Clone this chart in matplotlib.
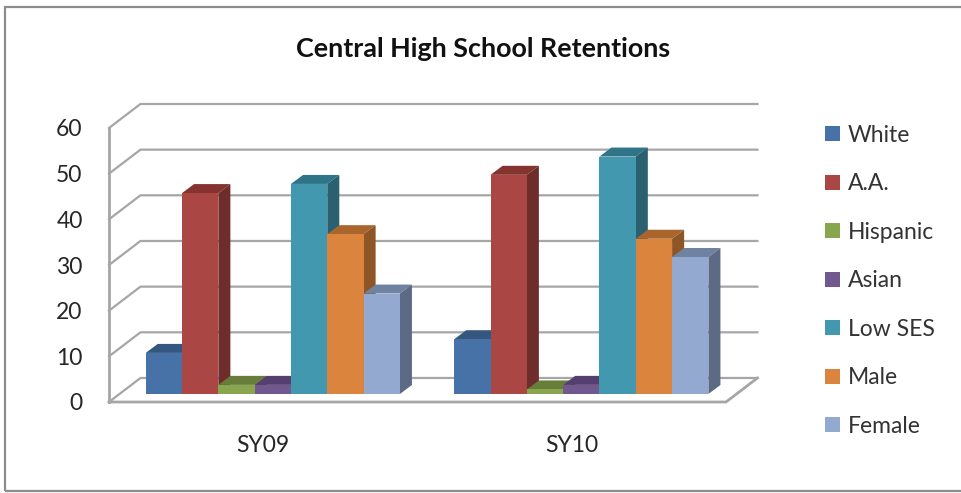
import matplotlib
matplotlib.use("Agg")
import matplotlib.pyplot as plt
from matplotlib.patches import Patch, Rectangle

plt.rcParams["font.family"] = ["Lato", "DejaVu Sans"]

categories = ["SY09", "SY10"]
series = ["White", "A.A.", "Hispanic", "Asian", "Low SES", "Male", "Female"]
values = {
    "White": [9, 12],
    "A.A.": [44, 48],
    "Hispanic": [2, 1],
    "Asian": [2, 2],
    "Low SES": [46, 52],
    "Male": [35, 34],
    "Female": [22, 30],
}
y_ticks = [0, 10, 20, 30, 40, 50, 60]

front_colors = ["#4672A8", "#AA4643", "#89A54E", "#71588F", "#4198AF", "#DB843D", "#93A9CF"]
top_colors = ["#345780", "#84332F", "#677D3A", "#553F6F", "#2F7587", "#A9652B", "#6F82A2"]
side_colors = ["#2B4669", "#6E2C2A", "#556632", "#46345C", "#2A6070", "#8E5626", "#5C6A85"]

GRID = "#A6A6A6"
BAR_W = 0.1177
# oblique offsets, in data units
WALL_DX, WALL_DY = 0.102, 5.26
SHIFT_X, SHIFT_Y = 0.031, 1.75
BAR_DX, BAR_DY = 0.039, 1.97

fig = plt.figure(figsize=(9.62, 4.93), dpi=100)
ax = fig.add_axes([109 / 962, 91 / 493, 617 / 962, 274 / 493])
ax.set_xlim(-0.5, 1.5)
ax.set_ylim(0, 60)
for s in ax.spines.values():
    s.set_visible(False)
ax.patch.set_visible(False)

# chart border
fig.add_artist(Rectangle((4.5 / 962, 2 / 493), 960 / 962, 484.5 / 493, transform=fig.transFigure,
                         fill=False, edgecolor="#8C8C8C", linewidth=1.6))

# walls and gridlines
for v in y_ticks:
    ax.plot([-0.5, -0.5 + WALL_DX, 1.5 + WALL_DX], [v, v + WALL_DY, v + WALL_DY],
            color=GRID, lw=1.6, clip_on=False, zorder=1)
ax.plot([-0.5, -0.5], [0, 60], color=GRID, lw=2, clip_on=False, zorder=1)
ax.plot([-0.5, 1.5, 1.5 + WALL_DX], [0, 0, WALL_DY], color=GRID, lw=2, clip_on=False, zorder=1)

# bars, left to right so that each one covers the side of the last
z = 2
for g in range(len(categories)):
    for i, name in enumerate(series):
        v = values[name][g]
        x0 = g + SHIFT_X + (i - 3.5) * BAR_W
        x1 = x0 + BAR_W
        y0 = SHIFT_Y
        y1 = SHIFT_Y + v
        ax.fill([x0, x1, x1 + BAR_DX, x0 + BAR_DX], [y1, y1, y1 + BAR_DY, y1 + BAR_DY],
                color=top_colors[i], lw=0, clip_on=False, zorder=z)
        ax.fill([x1, x1 + BAR_DX, x1 + BAR_DX, x1], [y0, y0 + BAR_DY, y1 + BAR_DY, y1],
                color=side_colors[i], lw=0, clip_on=False, zorder=z)
        ax.bar(x0, v, width=BAR_W, bottom=y0, align="edge", color=front_colors[i],
               lw=0, clip_on=False, zorder=z + 1)
        z += 2

ax.set_xticks(range(len(categories)))
ax.set_xticklabels(categories, fontsize=16.5, color="#262626")
ax.set_yticks(y_ticks)
ax.tick_params(axis="x", length=0, pad=24)
ax.tick_params(axis="y", length=0, pad=19, labelsize=16.5, labelcolor="#262626")

fig.text(483 / 962, 444 / 493, "Central High School Retentions", ha="center", va="center",
         fontsize=19.4, fontweight="bold", color="#111111")

handles = [Patch(facecolor=c, edgecolor="none") for c in front_colors]
fig.legend(handles, series, loc="upper left", bbox_to_anchor=(818 / 962, 1 - 118 / 493),
           frameon=False, fontsize=16.5, labelcolor="#333333", labelspacing=1.2,
           handlelength=0.65, handleheight=0.65, handletextpad=0.35, borderpad=0.3, borderaxespad=0)

fig.savefig("out.png", dpi=100)
plt.close(fig)
